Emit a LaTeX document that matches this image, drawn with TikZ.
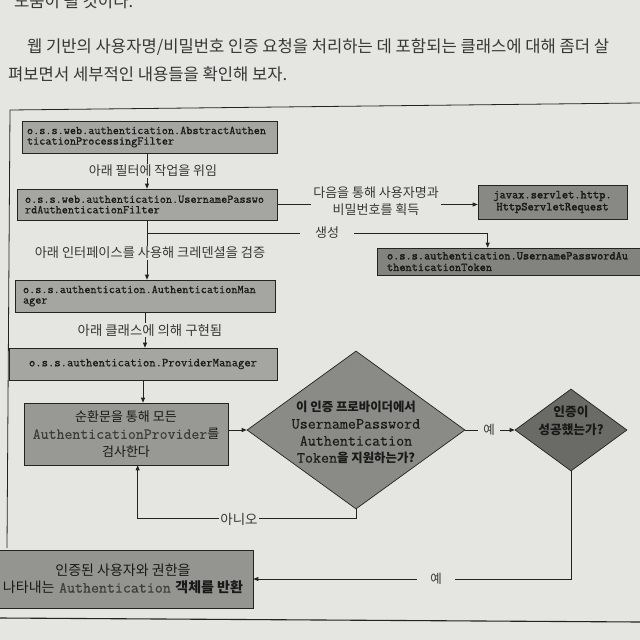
\documentclass[tikz,border=0pt]{standalone}
\usepackage{fontspec}
\usetikzlibrary{arrows.meta,shapes.geometric,calc}
\newfontfamily\kr{Noto Sans CJK KR}
\newfontfamily\mono{Latin Modern Mono}[FakeBold=0.7]
\newfontfamily\monol{Latin Modern Mono}[FakeBold=0.3]
\newfontfamily\monob{Latin Modern Mono}[FakeBold=1.8]
\newcommand\myfs[2]{\fontsize{#1}{#2}\selectfont}
\definecolor{bg}{RGB}{229,229,226}
\definecolor{boxc}{RGB}{165,165,162}
\definecolor{loopc}{RGB}{152,152,149}
\definecolor{d1c}{RGB}{138,138,135}
\definecolor{d2c}{RGB}{106,106,103}
\definecolor{javc}{RGB}{136,136,133}
\definecolor{tokc}{RGB}{130,130,127}
\definecolor{resc}{RGB}{148,148,145}
\definecolor{linec}{RGB}{35,35,35}
\definecolor{txtc}{RGB}{25,25,25}
\definecolor{softc}{RGB}{60,60,60}
\definecolor{lblc}{RGB}{55,55,55}
\definecolor{ptext}{RGB}{55,55,55}
\begin{document}
\begin{tikzpicture}[x=1pt,y=-1pt,
  mbox/.style={draw=linec, line width=0.7pt, inner xsep=8pt, inner ysep=0pt,
    align=left, text=txtc, font=\mono\myfs{11.9}{10.5}},
  cbox/.style={draw=linec, line width=0.7pt, inner sep=0pt, align=center, text=txtc},
  diam/.style={diamond, draw=linec, line width=0.7pt, inner sep=0pt},
  conn/.style={draw=linec, line width=0.75pt},
  arr/.style={conn, -{Triangle[length=5pt,width=4pt]}},
  lbl/.style={fill=bg, text=lblc, inner ysep=1pt, inner xsep=2pt, font=\kr\myfs{13}{17}, align=center},
  frame/.style={draw=linec, line width=0.8pt},
  para/.style={anchor=west, inner sep=0pt, text=ptext, font=\kr\myfs{16.6}{18}}]
\clip (0,0) rectangle (640,640);
\fill[bg] (0,0) rectangle (640,640);

% page text
\node[para] (p0) at (14,1) {도움이 될 것이다.};
\node[para] (p1) at (27,47) {웹 기반의 사용자명/비밀번호 인증 요청을 처리하는 데 포함되는 클래스에 대해 좀더 살};
\node[para] (p2) at (8,74) {펴보면서 세부적인 내용들을 확인해 보자.};

% figure frame
\draw[frame] (10,110) -- (640,103);
\draw[frame] (10,110) -- (7,548);
\draw[frame, line width=1.1pt] (0,618) -- (640,622);

% boxes
\node[mbox, fill=boxc, inner xsep=5pt, text width=245pt, minimum height=32pt] (b1) at (149.5,137)
  {o.s.s.web.authentication.AbstractAuthen\\ticationProcessingFilter};
\node[mbox, fill=boxc, text width=244pt, minimum height=31pt] (b2) at (147,204.5)
  {o.s.s.web.authentication.UsernamePasswo\\rdAuthenticationFilter};
\node[mbox, fill=boxc, text width=244pt, minimum height=32pt] (b3) at (145,296)
  {o.s.s.authentication.AuthenticationMan\\ager};
\node[cbox, fill=boxc, minimum width=268pt, minimum height=32pt, font=\mono\myfs{12.3}{11}] (b4) at (143,364)
  {o.s.s.authentication.ProviderManager};
\node[cbox, fill=loopc, minimum width=204pt, minimum height=62pt, font=\myfs{15.4}{17.5}] (loop) at (126,434)
  {{\kr\myfs{13}{17.5}순환문을 통해 모든}\\{\monol\color{softc}AuthenticationProvider}{\kr\myfs{13}{17.5}를}\\{\kr\myfs{13}{17.5}검사한다}};
\node[cbox, fill=javc, minimum width=149pt, minimum height=34pt, font=\monob\myfs{12.1}{12}] (jav) at (552.5,202)
  {javax.servlet.http.\\HttpServletRequest};
\node[mbox, fill=tokc, inner xsep=10pt, text width=263pt, minimum height=27pt, font=\monob\myfs{12}{11.5}] (tok) at (518.5,261.5)
  {o.s.s.authentication.UsernamePasswordAu\\thenticationToken};
\node[diam, fill=d1c, minimum width=218pt, minimum height=158pt] (d1) at (356,430) {};
\node[align=center, text=txtc, inner sep=0pt, font=\myfs{15.6}{17}] (d1t) at (356,432.5)
  {{\kr\bfseries\myfs{12.4}{17}이 인증 프로바이더에서}\\{\monol UsernamePassword}\\{\monol Authentication}\\{\monol Token}{\kr\bfseries\myfs{12.4}{17}을 지원하는가?}};
\node[diam, fill=d2c, minimum width=112pt, minimum height=82pt] (d2) at (571,430) {};
\node[align=center, text=txtc, inner sep=0pt, font=\kr\bfseries\myfs{12.7}{18}] (d2t) at (571,421)
  {인증이\\성공했는가?};
\node[cbox, fill=resc, minimum width=260pt, minimum height=58pt, font=\myfs{14}{17}] (res) at (123,579)
  {{\kr 인증된 사용자와 권한을}\\{\kr 나타내는}\ {\monol\color{softc}\myfs{15.5}{17}Authentication}\ {\kr\bfseries 객체를 반환}};

% connectors
\draw[arr] (b2.north |- b1.south) -- (b2.north);
\draw[arr] (b2.east) -- (b2.east -| jav.west);
\draw[conn] (b2.south) -- ++(0,13) coordinate (br);
\draw[arr] (br) -| ([xshift=111pt]tok.north west);
\draw[arr] (br) -- (br |- b3.north);
\draw[arr] (b3.south) -- (b3.south |- b4.north);
\draw[arr] (b4.south) -- (b4.south |- loop.north);
\draw[arr] (d1.west -| loop.east) -- (d1.west);
\draw[arr] (d1.east) -- (d2.west);
\draw[arr] (d2.south) |- (res.east);
\draw[arr] (d1.south) -- ++(0,9) -| ([xshift=114pt]loop.south west);

% labels
\node[lbl] (l1) at (153,171) {아래 필터에 작업을 위임};
\node[lbl] (l2) at (376,201.5) {다음을 통해 사용자명과\\비밀번호를 획득};
\node[lbl, inner xsep=15pt] (l3) at (327,233) {생성};
\node[lbl, font=\kr\myfs{13.2}{17}] (l4) at (150,253) {아래 인터페이스를 사용해 크레덴셜을 검증};
\node[lbl, font=\kr\myfs{13.4}{17}] (l5) at (150,330) {아래 클래스에 의해 구현됨};
\node[lbl, inner xsep=5pt, font=\kr\myfs{12.5}{17}] (l6) at (489,430) {예};
\node[lbl, inner xsep=1.5pt, font=\kr\myfs{13.5}{17}] (l7) at (239,519) {아니오};
\node[lbl, inner xsep=13pt, font=\kr\myfs{12.5}{17}] (l8) at (436,579) {예};
\end{tikzpicture}
\end{document}
